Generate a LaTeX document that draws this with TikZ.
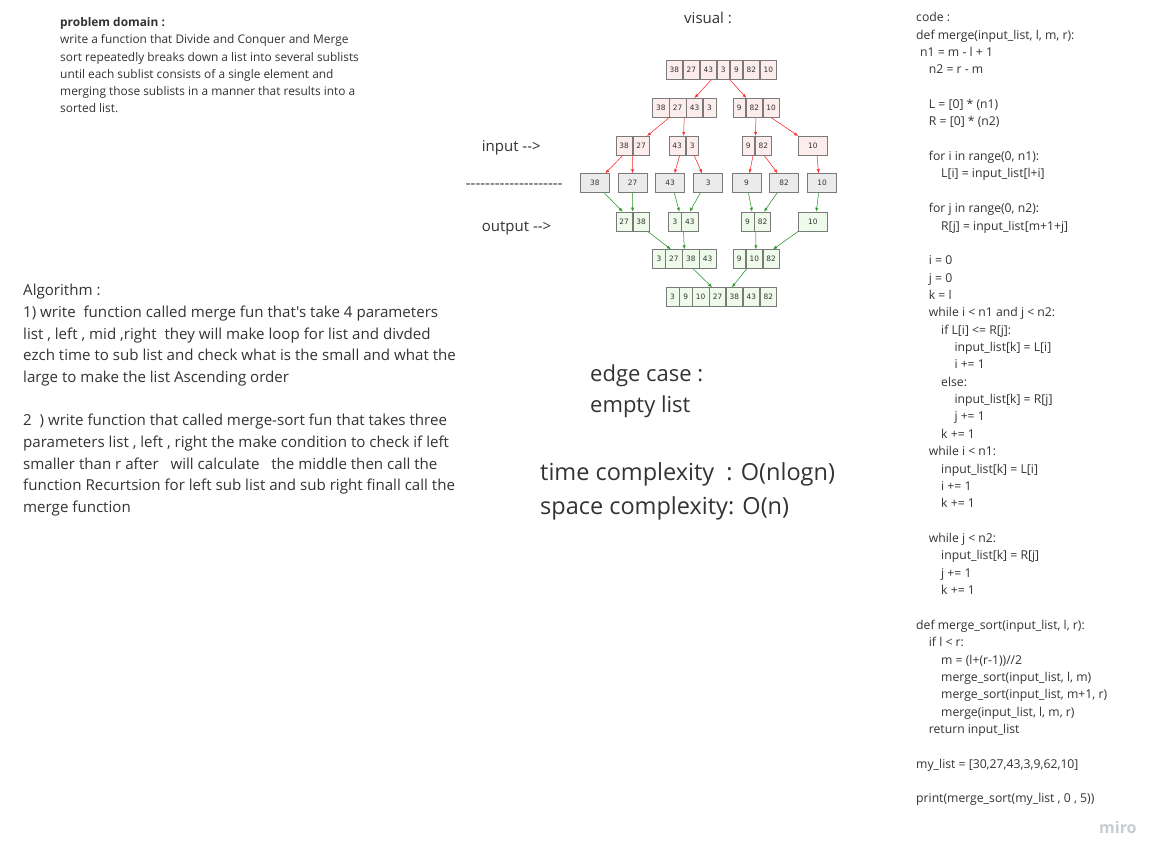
\documentclass[tikz,border=0pt]{standalone}
\usepackage{fontspec}
\setmainfont{Open Sans}[Ligatures=TeXOff]
\newfontfamily\numfont{DejaVu Sans}
\usetikzlibrary{arrows.meta}
\definecolor{txt}{HTML}{333333}
\definecolor{cellline}{HTML}{7A7A7A}
\definecolor{redfill}{HTML}{FCECEC}
\definecolor{grayfill}{HTML}{EBEBEB}
\definecolor{greenfill}{HTML}{EEFAEA}
\definecolor{redarrow}{HTML}{FF3030}
\definecolor{greenarrow}{HTML}{2E9A2E}
\definecolor{wm}{HTML}{C8CBD0}
\newcommand\sortbox[5]{%
  \foreach \v [count=\i] in {#5}{%
    \ifnum\v<10 \def\cw{12.5pt}\else\def\cw{16.3pt}\fi
    \ifnum\i=1
      \node[#2, minimum width=\cw] (#1-\i) at (#3,#4) {\v};
    \else
      \pgfmathtruncatemacro\j{\i-1}%
      \node[#2, minimum width=\cw] (#1-\i) at (#1-\j.north east) {\v};
    \fi
  }%
}
\begin{document}
\begin{tikzpicture}[x=1pt,y=-1pt,
  cell/.style={draw=cellline, line width=0.6pt, anchor=north west, minimum height=19pt,
    inner sep=0pt, font=\numfont\fontsize{7.4}{8}\selectfont, text=txt},
  redcell/.style={cell, fill=redfill},
  graycell/.style={cell, fill=grayfill, minimum width=29pt},
  greencell/.style={cell, fill=greenfill},
  rarr/.style={draw=redarrow, line width=0.5pt, -{Latex[length=4pt,width=3.2pt]}, fill=redarrow},
  garr/.style={draw=greenarrow, line width=0.5pt, -{Latex[length=4pt,width=3.2pt]}, fill=greenarrow},
  txtblock/.style={inner sep=0pt, align=left, text=txt, anchor=base west}]
\useasboundingbox[fill=white] (0,0) rectangle (1163,859);

% ---------- merge sort picture ----------
\sortbox{t}{redcell}{666}{60}{38,27,43,3,9,82,10}
\sortbox{a}{redcell}{652.3}{98}{38,27,43,3}
\sortbox{b}{redcell}{732.7}{98}{9,82,10}
\sortbox{c}{redcell}{615.7}{136}{38,27}
\sortbox{d}{redcell}{668.7}{136}{43,3}
\sortbox{e}{redcell}{741.7}{136}{9,82}
\node[redcell, minimum width=28.4pt] (f) at (798.3,136) {10};

\node[graycell] (g1) at (580,173.3) {38};
\node[graycell] (g2) at (617.7,173.3) {27};
\node[graycell] (g3) at (655.3,173.3) {43};
\node[graycell] (g4) at (693.3,173.3) {3};
\node[graycell] (g5) at (731.7,173.3) {9};
\node[graycell] (g6) at (769.3,173.3) {82};
\node[graycell] (g7) at (807.3,173.3) {10};

\sortbox{h}{greencell}{615.7}{211.7}{27,38}
\sortbox{i}{greencell}{668.3}{211.7}{3,43}
\sortbox{j}{greencell}{741}{211.7}{9,82}
\node[greencell, minimum width=28.4pt] (k) at (798.3,211.7) {10};
\sortbox{m}{greencell}{652.3}{249.3}{3,27,38,43}
\sortbox{n}{greencell}{732.7}{249.3}{9,10,82}
\sortbox{o}{greencell}{666}{287.3}{3,9,10,27,38,43,82}

\draw[rarr] ([xshift=3.25pt]t-3.south) -- (a-3.north);
\draw[rarr] (t-4.south east) -- ([xshift=0.5pt]b-2.north west);
\draw[rarr] (a-2.south west) -- ([xshift=6pt]c-2.north);
\draw[rarr] ([xshift=6.5pt]a-2.south) -- ([xshift=6.5pt]d-1.north);
\draw[rarr] ([xshift=1.6pt]b-2.south) -- ([xshift=0.8pt]e-1.north east);
\draw[rarr] (b-3.south) -- (f.north west);
\draw[rarr] ([xshift=-1.5pt]c-1.south) -- ([xshift=10.5pt]g1.north);
\draw[rarr] (c-1.south east) -- (g2.north);
\draw[rarr] ([xshift=2.5pt]d-1.south) -- ([xshift=4.5pt]g3.north);
\draw[rarr] ([xshift=2pt]d-2.south) -- ([xshift=-6pt]g4.north);
\draw[rarr] ([xshift=4.75pt]e-1.south) -- ([xshift=3pt]g5.north);
\draw[rarr] ([xshift=1pt]e-2.south) -- ([xshift=-6.5pt]g6.north);
\draw[rarr] ([xshift=4.2pt]f.south) -- ([xshift=-3.5pt]g7.north);

\draw[garr] ([xshift=9.5pt]g1.south) -- ([xshift=-1.5pt]h-1.north);
\draw[garr] (g2.south) -- (h-1.north east);
\draw[garr] ([xshift=4.2pt]g3.south) -- ([xshift=4.5pt]i-1.north);
\draw[garr] ([xshift=-7.8pt]g4.south) -- (i-2.north);
\draw[garr] ([xshift=2pt]g5.south) -- ([xshift=4.5pt]j-1.north);
\draw[garr] ([xshift=-7pt]g6.south) -- ([xshift=1.5pt]j-2.north);
\draw[garr] ([xshift=-3.5pt]g7.south) -- ([xshift=3.5pt]k.north);
\draw[garr] ([xshift=6.5pt]h-2.south) -- ([xshift=-3pt]m-2.north);
\draw[garr] ([xshift=-6.25pt]i-2.south) -- ([xshift=-6.5pt]m-3.north);
\draw[garr] ([xshift=-6.6pt]j-2.south) -- ([xshift=1.6pt]n-2.north);
\draw[garr] (k.south west) -- ([xshift=2pt]n-3.north);
\draw[garr] ([xshift=2.5pt]m-3.south) -- ([xshift=-5.5pt]o-4.north);
\draw[garr] ([xshift=0.8pt]n-1.south east) -- ([xshift=-2.5pt]o-5.north);

% ---------- labels ----------
\node[txtblock, font=\fontsize{15}{17}\selectfont] (visual) at (684,23.3) {visual :};
\node[txtblock, font=\fontsize{15}{17}\selectfont] (inp) at (481.7,151.7) {input -->};
\node[txtblock, font=\fontsize{15}{17}\selectfont] (sep) at (465.7,188) {--------------------};
\node[txtblock, font=\fontsize{15}{17}\selectfont] (outp) at (481.7,231.7) {output -->};

% multi-line nodes: base anchor is the last line's baseline
\node[txtblock, font=\fontsize{11.9}{17.2}\selectfont] (pd) at (60,112.7)
{\textbf{problem domain :}\\
write a function that Divide and Conquer and Merge\\
sort repeatedly breaks down a list into several sublists\\
until each sublist consists of a single element and\\
merging those sublists in a manner that results into a\\
sorted list.};

\node[txtblock, font=\fontsize{15.1}{21.67}\selectfont] (algo) at (23,512.4)
{Algorithm :\\
1) write\ \ function called merge fun that's take 4 parameters\\
list , left , mid ,right\ \ they will make loop for list and divded\\
ezch time to sub list and check what is the small and what the\\
large to make the list Ascending order\\
\mbox{}\\
2\ \ ) write function that called merge-sort fun that takes three\\
parameters list , left , right the make condition to check if left\\
smaller than r after\ \ \ will calculate\ \ \ the middle then call the\\
function Recurtsion for left sub list and sub right finall call the\\
merge function};

\node[txtblock, font=\fontsize{22}{31}\selectfont] (edge) at (590,412.5)
{edge case :\\empty list};

\node[txtblock, font=\fontsize{23.5}{33.3}\selectfont] (cplx) at (540,514)
{time complexity\ \ : O(nlogn)\\space complexity: O(n)};

\node[txtblock, font=\fontsize{12.2}{17.36}\selectfont] (code) at (916,802.9)
{code :\\
def merge(input\_list, l, m, r):\\
\hspace*{4pt}n1 = m - l + 1\\
\hspace*{12.7pt}n2 = r - m\\
\mbox{}\\
\hspace*{12.7pt}L = [0] * (n1)\\
\hspace*{12.7pt}R = [0] * (n2)\\
\mbox{}\\
\hspace*{12.7pt}for i in range(0, n1):\\
\hspace*{25pt}L[i] = input\_list[l+i]\\
\mbox{}\\
\hspace*{12.7pt}for j in range(0, n2):\\
\hspace*{25pt}R[j] = input\_list[m+1+j]\\
\mbox{}\\
\hspace*{12.7pt}i = 0\\
\hspace*{12.7pt}j = 0\\
\hspace*{12.7pt}k = l\\
\hspace*{12.7pt}while i < n1 and j < n2:\\
\hspace*{25pt}if L[i] <= R[j]:\\
\hspace*{38.3pt}input\_list[k] = L[i]\\
\hspace*{38.3pt}i += 1\\
\hspace*{25pt}else:\\
\hspace*{38.3pt}input\_list[k] = R[j]\\
\hspace*{38.3pt}j += 1\\
\hspace*{25pt}k += 1\\
\hspace*{12.7pt}while i < n1:\\
\hspace*{25pt}input\_list[k] = L[i]\\
\hspace*{25pt}i += 1\\
\hspace*{25pt}k += 1\\
\mbox{}\\
\hspace*{12.7pt}while j < n2:\\
\hspace*{25pt}input\_list[k] = R[j]\\
\hspace*{25pt}j += 1\\
\hspace*{25pt}k += 1\\
\mbox{}\\
def merge\_sort(input\_list, l, r):\\
\hspace*{12.7pt}if l < r:\\
\hspace*{25pt}m = (l+(r-1))//2\\
\hspace*{25pt}merge\_sort(input\_list, l, m)\\
\hspace*{25pt}merge\_sort(input\_list, m+1, r)\\
\hspace*{25pt}merge(input\_list, l, m, r)\\
\hspace*{12.7pt}return input\_list\\
\mbox{}\\
my\_list = [30,27,43,3,9,62,10]\\
\mbox{}\\
print(merge\_sort(my\_list , 0 , 5))};

\node[inner sep=0pt, anchor=base west, text=wm, font=\fontsize{16}{18}\selectfont\bfseries] (miro) at (1099,833) {miro};
\end{tikzpicture}
\end{document}
